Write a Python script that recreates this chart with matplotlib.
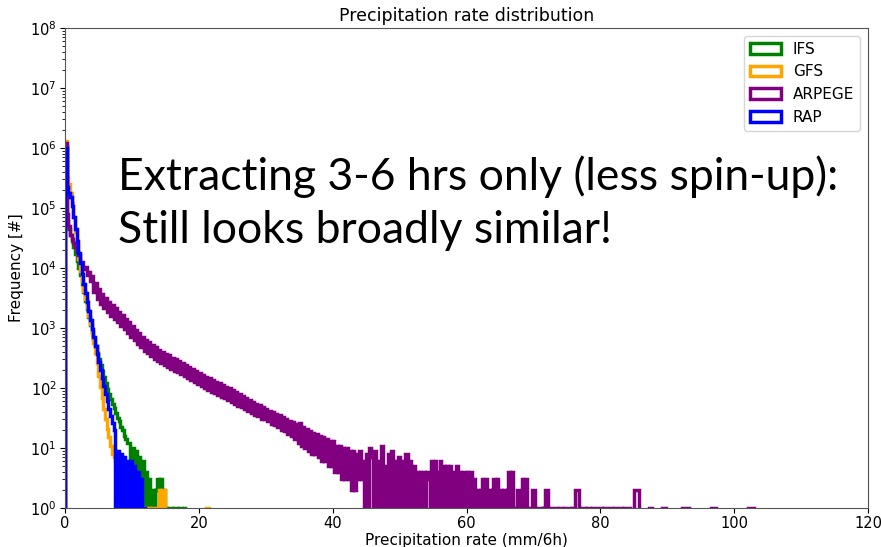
import numpy as np
import matplotlib.pyplot as plt

# histogram counts per 0.25 mm/6h bin, starting at 0
bin_width = 0.25

ifs_counts = [
    1100000, 60000, 45000, 35000,
    28000, 22000, 17000, 13000,
    10000, 7500, 5500, 4000,
    2800, 2050, 1500, 1120,
    850, 650, 500, 390,
    310, 245, 190, 150,
    120, 98, 80, 66,
    54, 46, 38, 32,
    28, 22, 20, 16,
    14, 12, 12, 0,
    10, 0, 9, 0,
    7, 0, 6, 0,
    4, 0, 3, 0,
    2, 0, 2, 3,
    0, 3, 0, 2,
    1, 0, 1, 1,
    0, 1, 1, 0,
    1, 1, 0, 1,
]

gfs_counts = [
    1300000, 330000, 250000, 180000,
    120000, 70000, 40000, 24000,
    14000, 9000, 6000, 4200,
    3000, 2200, 1600, 1150,
    760, 560, 380, 260,
    160, 105, 68, 45,
    30, 21, 15, 11,
    8, 7, 6, 5,
    5, 0, 4, 0,
    4, 0, 2, 0,
    2, 0, 1, 0,
    1, 0, 1, 0,
    1, 0, 1, 0,
    1, 0, 0, 1,
    2, 0, 2, 2,
    0, 0, 0, 0,
    0, 0, 0, 0,
    0, 0, 0, 0,
    0, 0, 0, 0,
    0, 0, 0, 0,
    0, 0, 0, 0,
    1, 1, 0, 0,
]

arpege_counts = [
    1200000, 79000, 50000, 35500,
    30000, 26300, 22600, 18400,
    16500, 12500, 12800, 9800,
    10500, 7600, 8500, 6000,
    7400, 4000, 5600, 3100,
    4450, 2530, 3750, 2150,
    3180, 1850, 2760, 1610,
    2410, 1420, 2130, 1240,
    1880, 1090, 1630, 950,
    1420, 830, 1240, 720,
    1080, 620, 940, 550,
    810, 480, 720, 420,
    640, 380, 580, 340,
    520, 310, 475, 285,
    435, 265, 405, 240,
    370, 225, 350, 210,
    320, 195, 305, 183,
    280, 170, 260, 160,
    245, 148, 228, 136,
    208, 126, 194, 115,
    180, 108, 166, 100,
    155, 94, 145, 87,
    135, 82, 128, 77,
    119, 72, 111, 67,
    104, 63, 99, 59,
    91, 55, 85, 51,
    79, 48, 74, 44,
    68, 41, 64, 38,
    59, 36, 55, 34,
    53, 31, 49, 30,
    44, 28, 41, 25,
    40, 24, 37, 22,
    35, 20, 33, 19,
    31, 17, 28, 16,
    27, 14, 25, 12,
    26, 11, 22, 10,
    21, 9, 19, 8,
    18, 8, 17, 7,
    16, 6, 15, 6,
    14, 5, 13, 5,
    13, 4, 11, 4,
    11, 3, 10, 3,
    10, 3, 9, 2,
    9, 2, 8, 3,
    9, 3, 6, 0,
    # tail from 45
    8, 0, 10, 7,
    0, 9, 0, 6,
    0, 11, 0, 5,
    0, 8, 0, 9,
    0, 6, 0, 7,
    0, 6, 0, 8,
    8, 0, 6, 0,
    5, 0, 4, 0,
    4, 0, 4, 0,
    4, 3, 0, 6,
    0, 6, 0, 4,
    6, 0, 5, 0,
    5, 0, 5, 0,
    4, 0, 5, 0,
    4, 0, 4, 0,
    4, 0, 4, 0,
    3, 0, 2, 0,
    2, 3, 0, 3,
    0, 2, 0, 2,
    3, 0, 3, 0,
    2, 0, 2, 0,
    2, 4, 0, 4,
    0, 1, 2, 2,
    0, 3, 0, 3,
    0, 1, 0, 2,
    2, 0, 1, 1,
    1, 0, 1, 2,
    2, 0, 1, 1,
    1, 1, 0, 1,
    1, 0, 1, 1,
    1, 1, 0, 1,
    0, 2, 2, 0,
    1, 1, 1, 0,
    1, 1, 0, 1,
    1, 1, 1, 1,
    1, 0, 1, 1,
    1, 1, 1, 0,
    1, 1, 1, 1,
    1, 0, 1, 1,
    1, 1, 0, 0,
    2, 2, 2, 0,
    0, 0, 0, 0,
    0, 1, 1, 0,
    0, 0, 0, 0,
    0, 1, 1, 0,
    0, 0, 0, 0,
    0, 0, 0, 0,
    0, 1, 1, 1,
    1, 0, 0, 0,
    0, 0, 0, 0,
    0, 0, 0, 0,
    0, 0, 1, 1,
    1, 0, 0, 0,
    0, 0, 0, 0,
    0, 0, 0, 0,
    0, 0, 0, 0,
    0, 0, 0, 0,
    1, 1, 1, 1,
]

rap_counts = [
    1000000, 220000, 180000, 150000,
    110000, 70000, 45000, 28000,
    18000, 12000, 8000, 5500,
    3800, 2700, 1900, 1350,
    950, 700, 500, 370,
    270, 200, 148, 110,
    80, 60, 45, 34,
    26, 20, 0, 9,
    0, 8, 0, 7,
    0, 6, 0, 6,
    0, 5, 0, 4,
    0, 3, 0, 1,
]

models = ['IFS', 'GFS', 'ARPEGE', 'RAP']
colors = ['green', 'orange', 'purple', 'blue']
all_counts = [ifs_counts, gfs_counts, arpege_counts, rap_counts]

fig = plt.figure(figsize=(8.81, 5.47), dpi=100)
ax = fig.add_axes([65/881, 39/547, 803/881, 480/547])

for name, col, counts in zip(models, colors, all_counts):
    counts = np.array(counts, dtype=float)
    edges = np.arange(len(counts) + 1) * bin_width
    centers = edges[:-1] + bin_width / 2
    ax.hist(centers, bins=edges, weights=counts, histtype='step',
            color=col, linewidth=2.5, label=name)

ax.set_yscale('log')
ax.set_xlim(0, 120)
ax.set_ylim(1, 1e8)
ax.set_title('Precipitation rate distribution', fontsize=12.5, pad=5)
ax.set_xlabel('Precipitation rate (mm/6h)', fontsize=11, labelpad=1)
ax.set_ylabel('Frequency [#]', fontsize=11)
ax.tick_params(labelsize=10.5, pad=2.5)
for sp in ax.spines.values():
    sp.set_color('#555555')
ax.legend(loc='upper right', fontsize=11)

fig.text(118/881, (547-190)/547, 'Extracting 3-6 hrs only (less spin-up):',
         fontsize=32, family='Lato', va='baseline')
fig.text(118/881, (547-243)/547, 'Still looks broadly similar!',
         fontsize=32, family='Lato', va='baseline')

fig.savefig('out.png', dpi=100)
